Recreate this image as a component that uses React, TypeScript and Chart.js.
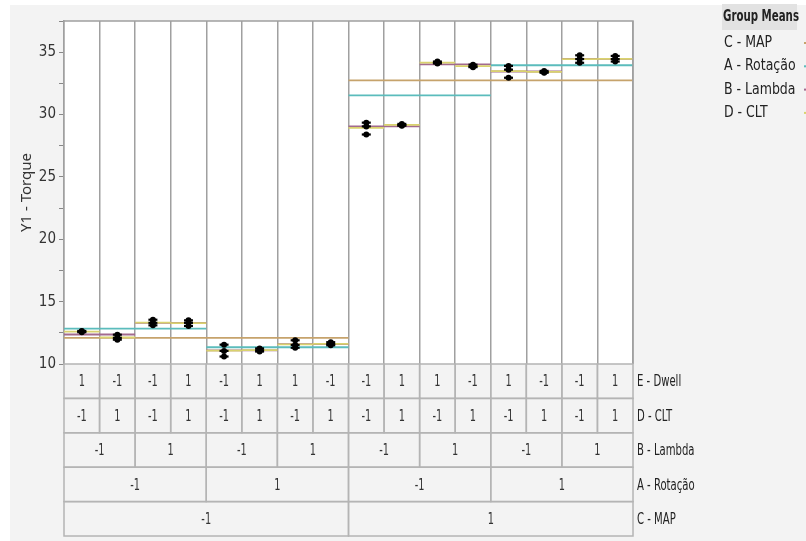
import React, { useEffect, useRef } from "react";
import { Chart, registerables } from "chart.js";

Chart.register(...registerables);

// ---- data ----
const dwell = [1, -1, -1, 1, -1, 1, 1, -1, -1, 1, 1, -1, 1, -1, -1, 1];
const clt = [-1, 1, -1, 1, -1, 1, -1, 1, -1, 1, -1, 1, -1, 1, -1, 1];
const lambda = [-1, 1, -1, 1, -1, 1, -1, 1];
const rotacao = [-1, 1, -1, 1];
const map = [-1, 1];

const rep1 = [12.65, 12.35, 13.55, 13.5, 11.55, 11.25, 11.9, 11.75, 29.35, 29.25, 34.25, 34.0, 33.9, 33.5, 34.75, 34.7];
const rep2 = [12.6, 12.1, 13.3, 13.3, 11.05, 11.1, 11.53, 11.6, 29.05, 29.15, 34.15, 33.85, 33.6, 33.4, 34.45, 34.45];
const rep3 = [12.55, 11.95, 13.1, 13.05, 10.6, 11.0, 11.3, 11.5, 28.4, 29.1, 34.1, 33.8, 32.95, 33.35, 34.15, 34.25];

const yTicks = [10, 15, 20, 25, 30, 35];
const legendItems = ["C - MAP", "A - Rotação", "B - Lambda", "D - CLT"];
const rowLabels = ["E - Dwell", "D - CLT", "B - Lambda", "A - Rotação", "C - MAP"];

const NARROW = '"DejaVu Sans Condensed", "Liberation Sans", sans-serif';
const COLORS = { C: "#c6a36c", A: "#5bbcbc", B: "#a26a8e", D: "#d9d26e" };

const reps = [rep1, rep2, rep3];
const nCols = rep1.length;

function groupMean(start: number, len: number) {
  let s = 0, n = 0;
  for (let c = start; c < start + len; c++) for (const r of reps) { s += r[c]; n++; }
  return s / n;
}

function meanSegments(span: number) {
  const out: { x: number; y: number }[] = [];
  for (let g = 0; g < nCols / span; g++) {
    const m = groupMean(g * span, span);
    out.push({ x: g * span, y: m }, { x: (g + 1) * span, y: m }, { x: (g + 1) * span, y: NaN });
  }
  return out;
}

const points = reps.flatMap((r) => r.map((v, i) => ({ x: i + 0.5, y: v })));

function sqText(ctx: CanvasRenderingContext2D, t: string, x: number, y: number, align: CanvasTextAlign, sx: number) {
  ctx.save();
  ctx.translate(x, y);
  ctx.scale(sx, 1);
  ctx.textAlign = align;
  ctx.fillText(t, 0, 0);
  ctx.restore();
}

const panelPlugin = {
  id: "panel",
  beforeDraw(chart: any) {
    const { ctx, chartArea: a, width, height } = chart;
    ctx.save();
    ctx.fillStyle = "#ffffff";
    ctx.fillRect(0, 0, width, height);
    ctx.fillStyle = "#f3f3f3";
    ctx.fillRect(10, 5, width - 10, height - 5);
    ctx.fillStyle = "#ffffff";
    ctx.fillRect(a.left, a.top, a.right - a.left, a.bottom - a.top);
    ctx.restore();
  },
  afterDraw(chart: any) {
    const { ctx, chartArea: a } = chart;
    const xs = chart.scales.x;
    ctx.save();
    ctx.strokeStyle = "#a0a0a0";
    ctx.lineWidth = 1.5;
    ctx.beginPath();
    ctx.moveTo(a.left, a.top);
    ctx.lineTo(a.right, a.top);
    ctx.lineTo(a.right, a.bottom);
    ctx.stroke();

    const rows = [
      { vals: dwell, span: 1 },
      { vals: clt, span: 1 },
      { vals: lambda, span: 2 },
      { vals: rotacao, span: 4 },
      { vals: map, span: 8 },
    ];
    const rowH = 34.4;
    ctx.strokeStyle = "#b4b4b4";
    ctx.lineWidth = 1.5;
    ctx.textBaseline = "middle";
    rows.forEach((row, r) => {
      const y0 = a.bottom + r * rowH;
      row.vals.forEach((v, k) => {
        const xl = xs.getPixelForValue(k * row.span);
        const xr = xs.getPixelForValue((k + 1) * row.span);
        ctx.strokeRect(xl, y0, xr - xl, rowH);
        ctx.fillStyle = "#333333";
        ctx.font = `16px ${NARROW}`;
        sqText(ctx, String(v), (xl + xr) / 2, y0 + rowH / 2 + 1, "center", 0.68);
      });
      ctx.fillStyle = "#222222";
      ctx.font = `16px ${NARROW}`;
      sqText(ctx, rowLabels[r], a.right + 4, y0 + rowH / 2 + 1, "left", 0.7);
    });

    ctx.fillStyle = "#e2e2e2";
    ctx.fillRect(722, 4, 75, 26);
    ctx.fillStyle = "#222222";
    ctx.font = `bold 16px ${NARROW}`;
    sqText(ctx, "Group Means", 723, 17, "left", 0.71);
    const lc = [COLORS.C, COLORS.A, COLORS.B, COLORS.D];
    legendItems.forEach((t, i) => {
      const y = 43 + i * 23.3;
      ctx.fillStyle = "#222222";
      ctx.font = `16px ${NARROW}`;
      sqText(ctx, t, 724, y, "left", 0.87);
      ctx.fillStyle = lc[i];
      ctx.fillRect(804, y - 1, 2, 2);
    });
    ctx.restore();
  },
};

export default function App() {
  const ref = useRef<HTMLCanvasElement | null>(null);
  useEffect(() => {
    if (!ref.current) return;
    const lineDs = (label: string, span: number, color: string, order: number) => ({
      type: "scatter" as const,
      label,
      data: meanSegments(span),
      showLine: true,
      spanGaps: false,
      borderColor: color,
      borderWidth: 1.8,
      pointRadius: 0,
      order,
    });
    const chart = new Chart(ref.current, {
      type: "scatter",
      data: {
        datasets: [
          {
            label: "pts-dash",
            data: points,
            pointStyle: "line",
            pointRadius: 4.5,
            borderColor: "#000",
            borderWidth: 2.2,
            backgroundColor: "#000",
            order: 0,
          } as any,
          {
            label: "pts",
            data: points,
            pointStyle: "circle",
            pointRadius: 3,
            borderColor: "#000",
            borderWidth: 0,
            backgroundColor: "#000",
            order: 0,
          } as any,
          lineDs("D - CLT", 1, COLORS.D, 1),
          lineDs("B - Lambda", 2, COLORS.B, 2),
          lineDs("A - Rotação", 4, COLORS.A, 3),
          lineDs("C - MAP", 8, COLORS.C, 4),
        ],
      },
      options: {
        animation: false,
        responsive: false,
        maintainAspectRatio: false,
        events: [],
        layout: { padding: { left: 18, top: 21, right: 173, bottom: 177 } },
        plugins: { legend: { display: false }, tooltip: { enabled: false } },
        scales: {
          x: {
            type: "linear",
            min: 0,
            max: nCols,
            ticks: { display: false, stepSize: 1 },
            grid: { color: "#a0a0a0", lineWidth: 1.5, drawTicks: false },
            border: { display: false },
            afterFit: (s: any) => { s.height = 0; },
          },
          y: {
            min: 10,
            max: 37.5,
            afterFit: (s: any) => { s.width = 46; },
            ticks: {
              stepSize: 2.5,
              autoSkip: false,
              padding: 3,
              color: "#333",
              font: { family: NARROW, size: 15 },
              callback: (v: any) => (yTicks.includes(Number(v)) ? String(v) : ""),
            },
            grid: {
              drawOnChartArea: false,
              drawTicks: true,
              tickLength: 5,
              tickColor: "#888",
            },
            border: { color: "#a0a0a0", width: 1.5 },
            title: {
              display: true,
              text: "Y1 - Torque",
              color: "#333",
              font: { family: '"Noto Sans", sans-serif', size: 15 },
              padding: { top: 0, bottom: 2 },
            },
          },
        },
      },
      plugins: [panelPlugin],
    });
    return () => chart.destroy();
  }, []);
  return (
    <div style={{ position: "absolute", left: 0, top: 0, width: 806, height: 541, background: "#fff" }}>
      <canvas ref={ref} width={806} height={541} style={{ display: "block" }} />
    </div>
  );
}
